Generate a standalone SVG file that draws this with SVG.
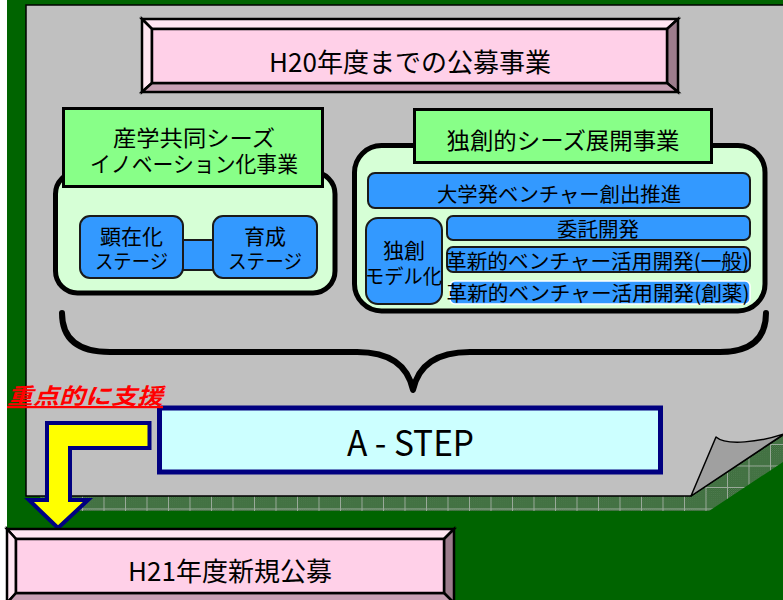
<svg xmlns="http://www.w3.org/2000/svg" width="783" height="600" viewBox="0 0 783 600">
<style>
text{font-family:"Noto Sans CJK JP","Noto Sans",sans-serif;fill:#000}
.blue{fill:#3399ff;stroke:#1a1a1a;stroke-width:2}
.cont{fill:#d6ffd6;stroke:#000;stroke-width:5}
.lab{fill:#88ff88;stroke:#000;stroke-width:3}
.bev{stroke:#000;stroke-width:2.5;stroke-linejoin:miter}
</style>
<defs>
<pattern id="dots" width="2" height="2" patternUnits="userSpaceOnUse">
<rect width="2" height="2" fill="#2a5f2a"/>
<rect width="1" height="1" fill="#5d865d"/>
<rect x="1" y="1" width="1" height="1" fill="#5d865d"/>
</pattern>
<pattern id="shadow" width="21.5" height="21.5" patternUnits="userSpaceOnUse" x="82" y="487">
<rect width="21.5" height="21.5" fill="url(#dots)"/>
<path d="M0.5,0V21.5M0,0.5H21.5" stroke="#9aaa9a" stroke-width="1"/>
</pattern>
</defs>
<!-- background -->
<rect x="0" y="0" width="783" height="600" fill="#006400"/>
<rect x="0" y="0" width="7" height="600" fill="#ffffff"/>
<!-- shadow of page -->
<polygon points="40,496 691,496 783,435 783,462 709,511 40,511" fill="url(#shadow)"/>
<!-- page -->
<polygon points="26,5 786,5 786,433 691,496 26,496" fill="#c0c0c0" stroke="#000" stroke-width="1.5"/>
<!-- curl -->
<path d="M691,496 L716,437 C726,446 760,442 784,434 Z" fill="#a0a0a0" stroke="#000" stroke-width="1.5" stroke-linejoin="round"/>

<!-- top title -->
<g id="title-h20">
<polygon points="142,19 678,19 667,29 152,29" fill="#ffe6f2" class="bev"/>
<polygon points="142,19 152,29 152,83 142,92" fill="#ffe6f2" class="bev"/>
<polygon points="678,19 678,92 667,83 667,29" fill="#9c7c8c" class="bev"/>
<polygon points="142,92 152,83 667,83 678,92" fill="#c8a0b4" class="bev"/>
<rect x="152" y="29" width="515" height="54" fill="#ffd0e8" class="bev"/>
<text x="410" y="72" font-size="26" text-anchor="middle">H20年度までの公募事業</text>
</g>

<!-- left container -->
<g id="sangaku">
<rect x="55.5" y="172" width="279.5" height="121" rx="22" class="cont"/>
<rect x="63.5" y="108.5" width="259" height="78" class="lab"/>
<text x="194" y="146" font-size="22" text-anchor="middle" textLength="162" lengthAdjust="spacingAndGlyphs">産学共同シーズ</text>
<text x="194" y="172" font-size="22" text-anchor="middle" textLength="208" lengthAdjust="spacingAndGlyphs">イノベーション化事業</text>
</g>
<g id="stage-link">
<rect x="183" y="240" width="30" height="30" fill="#3399ff"/>
<path d="M183,240H213M183,270H213" stroke="#1a1a1a" stroke-width="2"/>
</g>
<g id="kenzaika">
<rect x="80" y="216" width="103" height="62" rx="10" class="blue"/>
<text x="131.5" y="244" font-size="21" text-anchor="middle">顕在化</text>
<text x="131.5" y="269" font-size="20" text-anchor="middle" textLength="73" lengthAdjust="spacingAndGlyphs">ステージ</text>
</g>
<g id="ikusei">
<rect x="213" y="216" width="104" height="62" rx="10" class="blue"/>
<text x="265" y="244" font-size="21" text-anchor="middle">育成</text>
<text x="265" y="269" font-size="20" text-anchor="middle" textLength="74" lengthAdjust="spacingAndGlyphs">ステージ</text>
</g>

<!-- right container -->
<g id="dokuso">
<rect x="354.5" y="145.5" width="410.5" height="165.5" rx="27" class="cont"/>
<rect x="414.5" y="109.5" width="297" height="53" class="lab"/>
<text x="563" y="149" font-size="23" text-anchor="middle" textLength="233" lengthAdjust="spacingAndGlyphs">独創的シーズ展開事業</text>
</g>
<g id="daigaku">
<rect x="368" y="173" width="382" height="35" rx="7" class="blue"/>
<text x="559" y="202" font-size="20.5" text-anchor="middle" textLength="244" lengthAdjust="spacingAndGlyphs">大学発ベンチャー創出推進</text>
</g>
<g id="model">
<rect x="366" y="218" width="76" height="86" rx="12" class="blue"/>
<text x="404" y="258" font-size="21" text-anchor="middle">独創</text>
<text x="403.5" y="284" font-size="20" text-anchor="middle" textLength="77" lengthAdjust="spacingAndGlyphs">モデル化</text>
</g>
<g id="itaku">
<rect x="447" y="216" width="303" height="24" rx="6" class="blue"/>
<text x="598" y="237" font-size="20.5" text-anchor="middle" textLength="82" lengthAdjust="spacingAndGlyphs">委託開発</text>
</g>
<g id="kakushin-ippan">
<rect x="447" y="247" width="303" height="25" rx="6" class="blue"/>
<text x="597.5" y="269" font-size="20.5" text-anchor="middle" textLength="303" lengthAdjust="spacingAndGlyphs">革新的ベンチャー活用開発(一般)</text>
</g>
<g id="kakushin-soyaku">
<rect x="450" y="281" width="300" height="23" rx="5" fill="#3399ff" stroke="#ffffff" stroke-width="1.5"/>
<text x="598" y="301" font-size="20.5" text-anchor="middle" textLength="303" lengthAdjust="spacingAndGlyphs">革新的ベンチャー活用開発(創薬)</text>
</g>

<!-- connectors -->
<g id="connectors">
<path d="M62,313 Q62,352 110,352 L357,352 Q405,352 413,390 Q421,352 470,352 L720,352 Q766,352 766,313" fill="none" stroke="#000" stroke-width="6" stroke-linecap="round" stroke-linejoin="round"/>
<polygon points="47,423 149.5,423 149.5,448 70,448 70,500 88,500 58,528 29,500 47,500" fill="#ffff00" stroke="#000080" stroke-width="4" stroke-linejoin="miter"/>
</g>

<!-- A-STEP -->
<g id="astep">
<rect x="159.5" y="408" width="501" height="64" fill="#ccffff" stroke="#000080" stroke-width="5"/>
<text x="410.5" y="456" font-size="35" text-anchor="middle" textLength="127" lengthAdjust="spacingAndGlyphs">A - STEP</text>
</g>

<!-- red emphasis -->
<text id="juten" x="7" y="404" font-size="22" font-weight="bold" font-style="italic" text-decoration="underline" style="fill:#ff0000" textLength="156" lengthAdjust="spacingAndGlyphs">重点的に支援</text>

<!-- bottom title -->
<g id="title-h21">
<polygon points="7,529 454,529 444,539 16,539" fill="#ffe6f2" class="bev"/>
<polygon points="7,529 16,539 16,593 7,603" fill="#ffe6f2" class="bev"/>
<polygon points="454,529 454,603 444,593 444,539" fill="#9c7c8c" class="bev"/>
<polygon points="7,603 16,593 444,593 454,603" fill="#c8a0b4" class="bev"/>
<rect x="16" y="539" width="428" height="54" fill="#ffd0e8" class="bev"/>
<text x="230" y="581" font-size="26" text-anchor="middle">H21年度新規公募</text>
</g>
</svg>
